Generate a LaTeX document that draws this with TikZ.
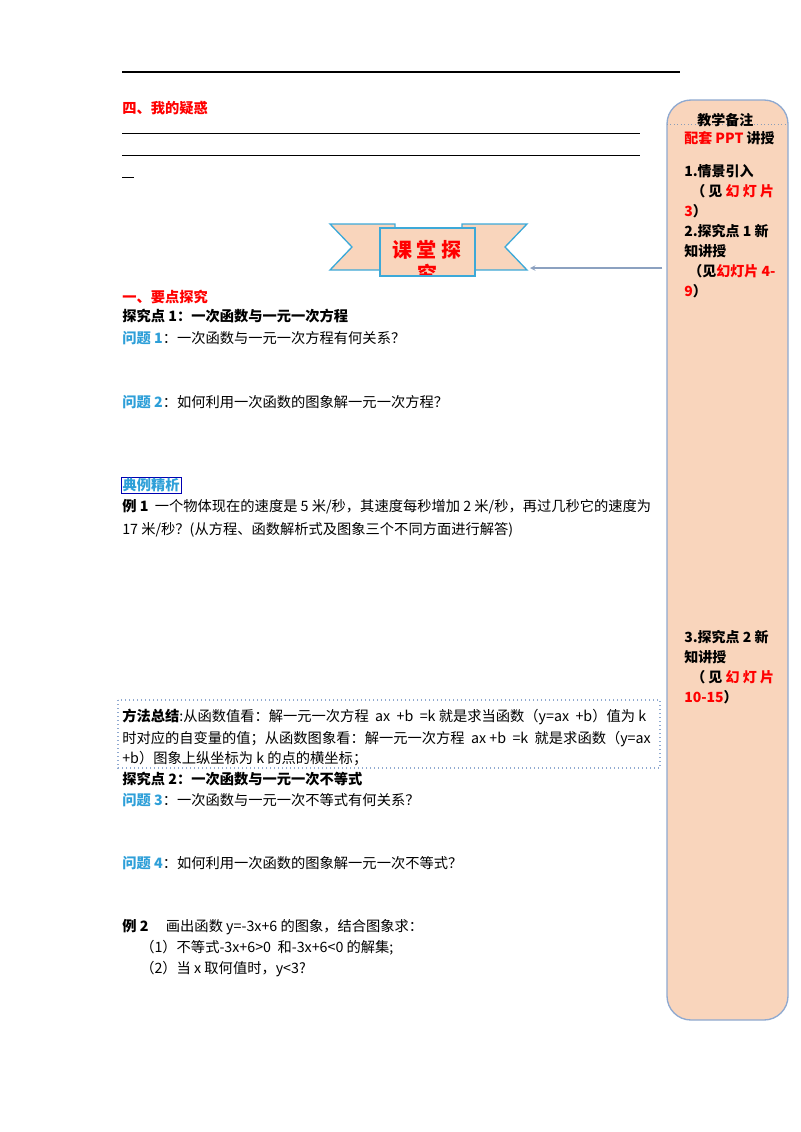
\documentclass[tikz,border=0pt]{standalone}
\usepackage{fontspec}
\setmainfont{Noto Sans CJK SC}
\definecolor{peach}{HTML}{F9D5BC}
\definecolor{edge}{HTML}{8FA9D0}
\definecolor{qblue}{HTML}{2E9FD8}
\definecolor{ban}{HTML}{3DA9D8}
\tikzset{t/.style={anchor=west,inner sep=0pt,font=\fontsize{10.7}{12}\selectfont},
 r/.style={text=red},b/.style={font=\fontsize{10.7}{12}\selectfont\bfseries},
 s/.style={anchor=west,inner sep=0pt,font=\fontsize{10.5}{15}\selectfont\bfseries,align=left}}
\begin{document}
\begin{tikzpicture}[x=0.75pt,y=-0.75pt]
\useasboundingbox (0,0) rectangle (800,1132);
\draw[line width=0.8pt] (122,72) -- (680,72);
\node[t,b,r] (h4) at (122,108) {四、我的疑惑};
\draw[line width=0.6pt] (122,133) -- (640,133);
\draw[line width=0.6pt] (122,155) -- (640,155);
\draw[line width=0.6pt] (122,177) -- (134,177);
% sidebar
\draw[edge,fill=peach,line width=1pt,rounded corners=18] (667,100) rectangle (788,1020);
\node (side) at (667,268) {};
\draw[edge!70!gray,dotted,line width=0.6pt] (667,124) -- (788,124);
\node[s] (n0) at (697,120) {教学备注};
\node[s] (n1) at (684,138) {\textcolor{red}{配套 PPT} 讲授};
\node[s,anchor=north west] (n2) at (684,164) {1.情景引入\\\hspace{0.5em}（ 见 \textcolor{red}{幻 灯 片}\\\textcolor{red}{3}）\\2.探究点 1 新\\知讲授\\\hspace{0.3em}（见\textcolor{red}{幻灯片 4-}\\\textcolor{red}{9}）};
\node[s,anchor=north west] (n3) at (684,630) {3.探究点 2 新\\知讲授\\\hspace{0.5em}（ 见 \textcolor{red}{幻 灯 片}\\\textcolor{red}{10-15}）};
% banner
\draw[ban,fill=peach,line width=1pt] (330,224) -- (395,224) -- (395,270) -- (330,270) -- (352,247) -- cycle;
\draw[ban,fill=peach,line width=1pt] (527,224) -- (462,224) -- (462,270) -- (527,270) -- (505,247) -- cycle;
\draw[ban,fill=peach,line width=1pt] (380,228) -- (475,228) -- (475,276) -- (380,276) -- cycle;
\begin{scope}
\clip (380,228) rectangle (475,274);
\node[text=red,font=\fontsize{15}{18}\selectfont\bfseries,align=center,anchor=north] (ban) at (427,236) {课 堂 探\\究};
\end{scope}
\coordinate (bend) at (530,268);
\draw[edge!80!gray,line width=0.8pt,-stealth] (side) -- (bend);
% body
\node[t,b,r] (a1) at (122,297) {一、要点探究};
\node[t,b] (a2) at (122,316) {探究点 1：一次函数与一元一次方程};
\node[t] (q1) at (122,338) {\textcolor{qblue}{\bfseries 问题 1}：一次函数与一元一次方程有何关系？};
\node[t] (q2) at (122,402) {\textcolor{qblue}{\bfseries 问题 2}：如何利用一次函数的图象解一元一次方程？};
\node[t,draw=blue!70!black,inner sep=1pt,text=qblue,font=\fontsize{10.7}{12}\selectfont\bfseries] (dl) at (121,485) {典例精析};
\node[t] (e1) at (122,507) {\textbf{例 1} \ 一个物体现在的速度是 5 米/秒，其速度每秒增加 2 米/秒，再过几秒它的速度为};
\node[t] (e1b) at (122,530) {17 米/秒？(从方程、函数解析式及图象三个不同方面进行解答)};
\draw[edge,dotted,line width=1pt] (118,700) rectangle (660,768);
\node[t] (m1) at (122,717) {\textbf{方法总结}:从函数值看：解一元一次方程 \ ax \ +b \ =k 就是求当函数（y=ax \ +b）值为 k};
\node[t] (m2) at (122,739) {时对应的自变量的值；从函数图象看：解一元一次方程 \ ax +b \ =k \ 就是求函数（y=ax};
\node[t] (m3) at (122,759) {+b）图象上纵坐标为 k 的点的横坐标；};
\node[t,b] (a3) at (122,779) {探究点 2：一次函数与一元一次不等式};
\node[t] (q3) at (122,800) {\textcolor{qblue}{\bfseries 问题 3}：一次函数与一元一次不等式有何关系？};
\node[t] (q4) at (122,863) {\textcolor{qblue}{\bfseries 问题 4}：如何利用一次函数的图象解一元一次不等式？};
\node[t] (e2) at (122,927) {\textbf{例 2} \quad 画出函数 y=-3x+6 的图象，结合图象求：};
\node[t] (e21) at (140,948) {（1）不等式-3x+6>0 \ 和-3x+6<0 的解集;};
\node[t] (e22) at (140,969) {（2）当 x 取何值时，y<3?};
\end{tikzpicture}
\end{document}
